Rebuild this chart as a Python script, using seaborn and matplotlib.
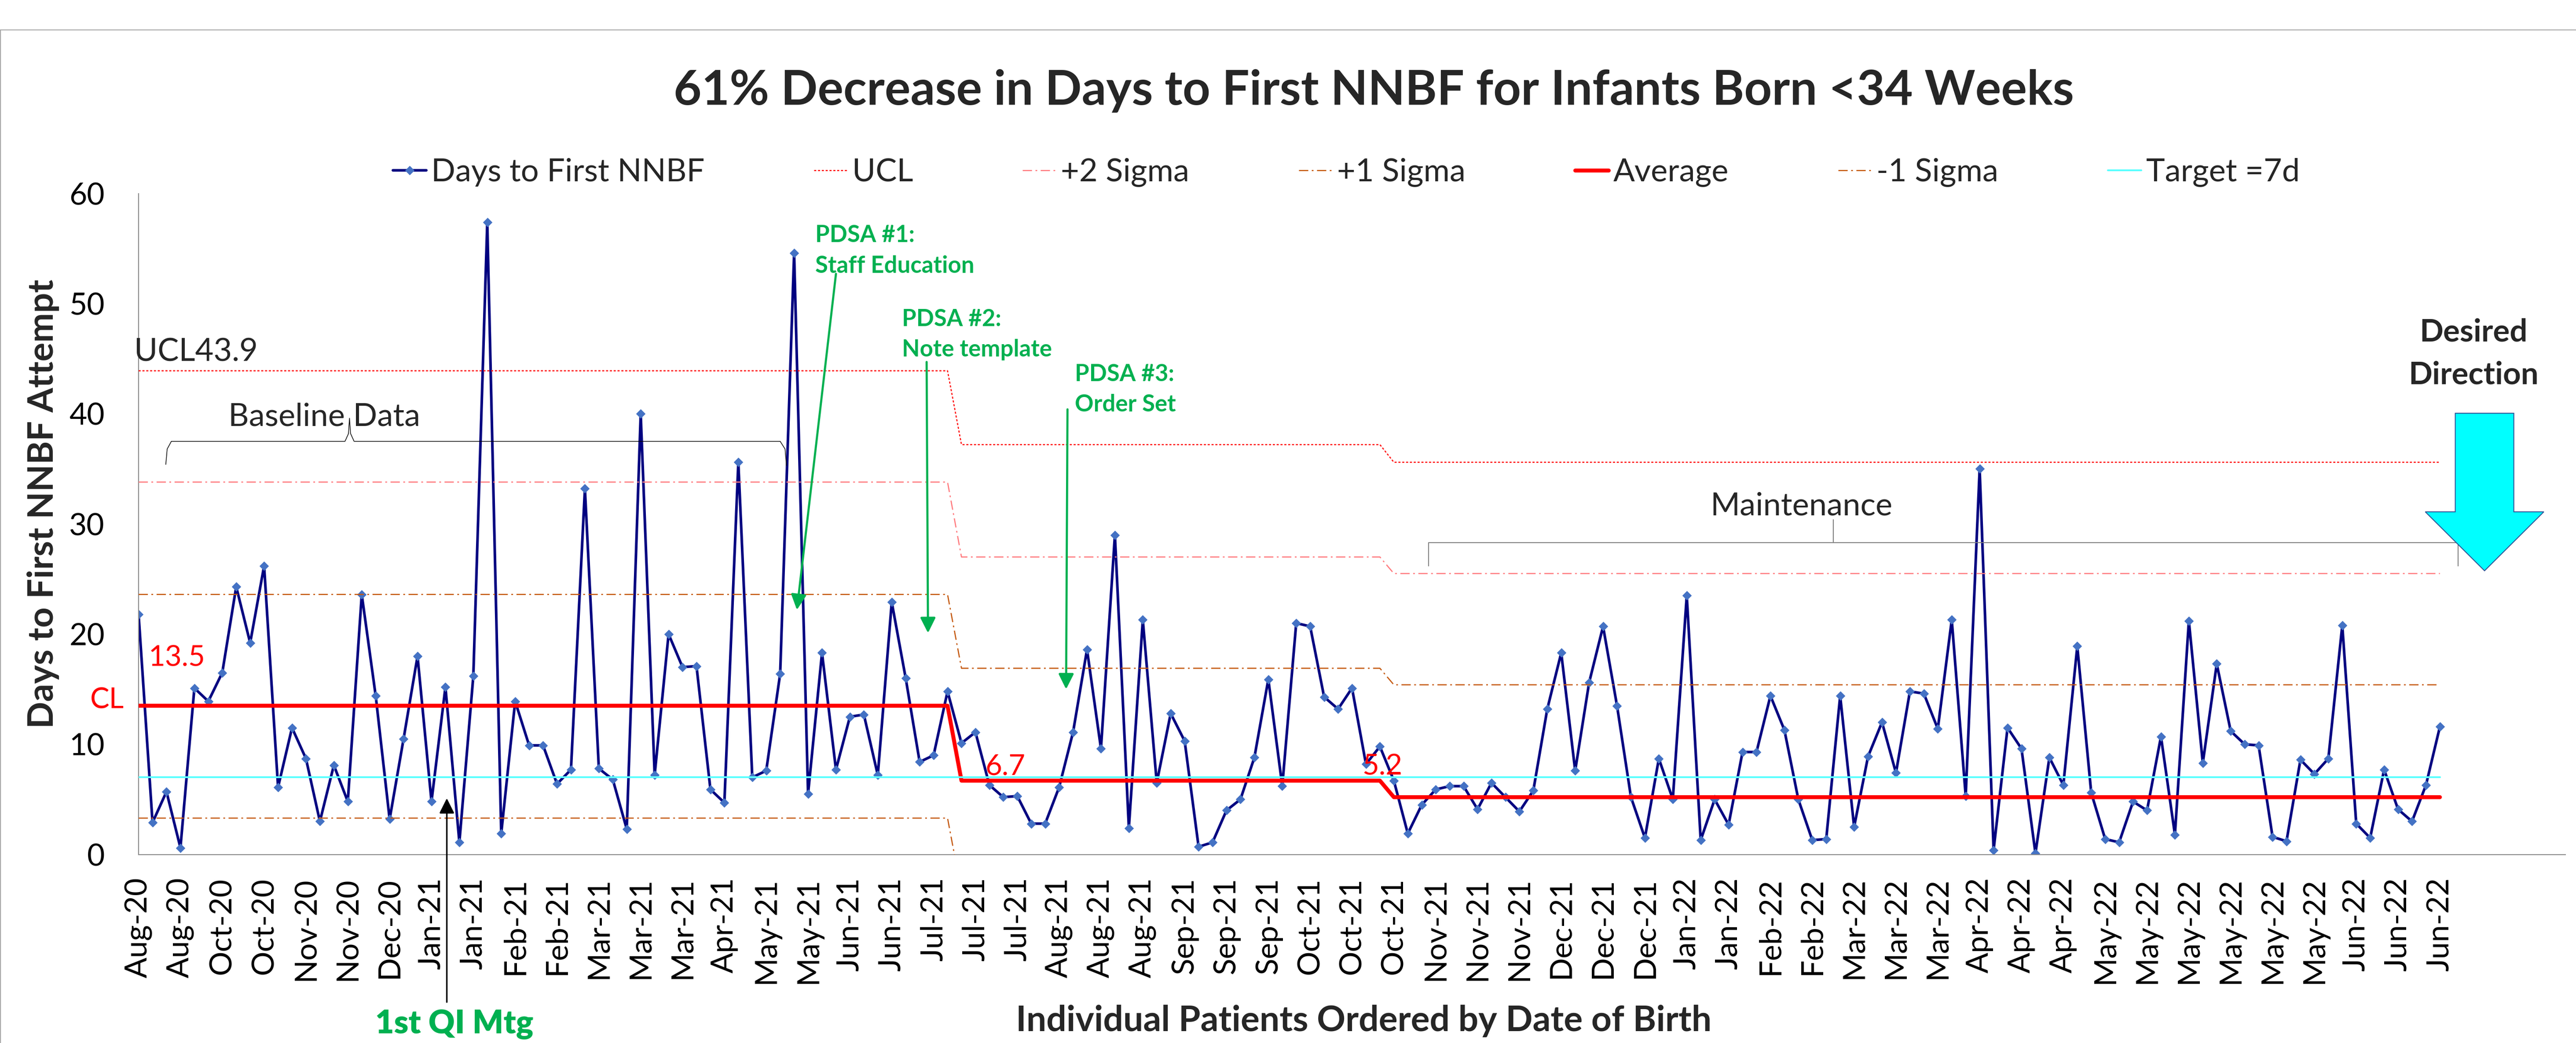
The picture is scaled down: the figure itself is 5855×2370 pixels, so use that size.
import numpy as np
import pandas as pd
import matplotlib
matplotlib.use("Agg")
import matplotlib.pyplot as plt
import seaborn as sns

# days to first NNBF attempt, one value per patient (ordered by birth date)
days = [
    21.8, 2.9, 5.7, 0.6, 15.1, 13.9, 16.5, 24.3, 19.2, 26.2,
    6.1, 11.5, 8.7, 3.0, 8.1, 4.8, 23.6, 14.4, 3.2, 10.5,
    18.0, 4.8, 15.2, 1.1, 16.2, 57.4, 1.9, 13.9, 9.9, 9.9,
    6.4, 7.7, 33.2, 7.8, 6.8, 2.3, 40.0, 7.2, 20.0, 17.0,
    17.1, 5.9, 4.7, 35.6, 7.0, 7.6, 16.4, 54.6, 5.5, 18.3,
    7.7, 12.5, 12.7, 7.2, 22.9, 16.0, 8.4, 9.0, 14.8, 10.1,
    11.1, 6.3, 5.2, 5.3, 2.8, 2.8, 6.1, 11.1, 18.6, 9.6,
    29.0, 2.4, 21.3, 6.5, 12.8, 10.3, 0.7, 1.1, 4.0, 5.0,
    8.8, 15.9, 6.2, 21.0, 20.7, 14.3, 13.2, 15.1, 8.2, 9.8,
    6.7, 1.9, 4.5, 5.9, 6.2, 6.2, 4.1, 6.5, 5.2, 3.9,
    5.8, 13.2, 18.3, 7.6, 15.6, 20.7, 13.5, 5.2, 1.5, 8.7,
    5.0, 23.5, 1.3, 5.0, 2.7, 9.3, 9.3, 14.4, 11.3, 5.0,
    1.3, 1.4, 14.4, 2.5, 8.9, 12.0, 7.4, 14.8, 14.6, 11.4,
    21.3, 5.3, 35.0, 0.4, 11.5, 9.6, 0.1, 8.8, 6.3, 18.9,
    5.6, 1.4, 1.1, 4.8, 4.0, 10.7, 1.8, 21.2, 8.3, 17.3,
    11.2, 10.0, 9.9, 1.6, 1.2, 8.6, 7.3, 8.7, 20.8, 2.8,
    1.5, 7.7, 4.1, 3.0, 6.3, 11.6]

# control chart phases: baseline, intervention, maintenance
phase_len = [59, 31, 76]
cl = [13.5, 6.7, 5.2]
ucl = [43.9, 37.2, 35.6]
plus2 = [33.8, 27.0, 25.5]
plus1 = [23.6, 16.9, 15.4]
minus1 = [3.3, -3.4, -4.9]
target = 7

# every third patient gets a month label
month_labels = ["Aug-20", "Aug-20", "Oct-20", "Oct-20", "Nov-20", "Nov-20", "Dec-20",
                "Jan-21", "Jan-21", "Feb-21", "Feb-21", "Mar-21", "Mar-21", "Mar-21",
                "Apr-21", "May-21", "May-21", "Jun-21", "Jun-21", "Jul-21", "Jul-21",
                "Jul-21", "Aug-21", "Aug-21", "Aug-21", "Sep-21", "Sep-21", "Sep-21",
                "Oct-21", "Oct-21", "Oct-21", "Nov-21", "Nov-21", "Nov-21", "Dec-21",
                "Dec-21", "Dec-21", "Jan-22", "Jan-22", "Feb-22", "Feb-22", "Mar-22",
                "Mar-22", "Mar-22", "Apr-22", "Apr-22", "Apr-22", "May-22", "May-22",
                "May-22", "May-22", "May-22", "May-22", "Jun-22", "Jun-22", "Jun-22"]
n_slots = 175

sns.set_style("white")
plt.rcParams['font.family'] = ['Lato', 'DejaVu Sans']

df = pd.DataFrame({
    "patient": np.arange(len(days)),
    "days": days,
    "UCL": np.repeat(ucl, phase_len),
    "+2 Sigma": np.repeat(plus2, phase_len),
    "+1 Sigma": np.repeat(plus1, phase_len),
    "Average": np.repeat(cl, phase_len),
    "-1 Sigma": np.repeat(minus1, phase_len),
    "Target": target,
})

W, H = 5855, 2370
fig = plt.figure(figsize=(W / 100, H / 100), dpi=100)
ax = fig.add_axes([315 / W, 1 - 1941.6 / H, (5831 - 315) / W, (1941.6 - 439.5) / H])

sns.lineplot(data=df, x="patient", y="days", ax=ax, color="#000080", lw=4.3,
             marker="D", ms=10, mfc="#4472C4", mec="#4472C4",
             label="Days to First NNBF", estimator=None, zorder=2)
sns.lineplot(data=df, x="patient", y="UCL", ax=ax, color="#FF1010", lw=1.9,
             linestyle=(0, (1.8, 1.5)), label="UCL", estimator=None, zorder=3)
sns.lineplot(data=df, x="patient", y="+2 Sigma", ax=ax, color="#FF7C80", lw=1.9,
             linestyle=(0, (8, 3, 1.5, 3)), label="+2 Sigma", estimator=None, zorder=3)
sns.lineplot(data=df, x="patient", y="+1 Sigma", ax=ax, color="#C55A11", lw=1.9,
             linestyle=(0, (8, 3, 1.5, 3)), label="+1 Sigma", estimator=None, zorder=3)
sns.lineplot(data=df, x="patient", y="Average", ax=ax, color="#FF0000", lw=6.5,
             label="Average", estimator=None, zorder=3)
sns.lineplot(data=df, x="patient", y="-1 Sigma", ax=ax, color="#C55A11", lw=1.9,
             linestyle=(0, (8, 3, 1.5, 3)), label="-1 Sigma", estimator=None, zorder=3)
sns.lineplot(data=df, x="patient", y="Target", ax=ax, color="#5CFFFF", lw=3,
             label="Target =7d", estimator=None, zorder=3)

ax.set_xlim(0, n_slots - 1)
ax.set_ylim(0, 60)
ax.set_xlabel("")
ax.set_ylabel("")
ax.set_yticks(range(0, 61, 10))
ticklabels = [""] * n_slots
for k, lab in enumerate(month_labels):
    ticklabels[3 * k] = lab
ax.set_xticks(range(n_slots))
ax.set_xticklabels(ticklabels, rotation=90)
ax.tick_params(axis="both", direction="out", length=19.4, width=1.2, color="#868686",
               labelsize=50, labelcolor="black")
ax.tick_params(axis="y", pad=36)
ax.tick_params(axis="x", pad=18)
sns.despine(ax=ax)
for s in ["left", "bottom"]:
    ax.spines[s].set_color("#868686")
    ax.spines[s].set_linewidth(1.5)

handles, labels = ax.get_legend_handles_labels()
ax.legend(handles, labels, loc="center", bbox_to_anchor=(3060 / W, 1 - 392 / H),
          bbox_transform=fig.transFigure, ncol=7, frameon=False, fontsize=52,
          handlelength=1.05, handletextpad=0.15, columnspacing=3.45,
          borderpad=0, borderaxespad=0, numpoints=1)

# phase labels
ax.text(-0.3, 44.8, "UCL43.9", fontsize=52, va="baseline")
ax.text(0.7, 17.1, "13.5", color="red", fontsize=47, va="baseline")
ax.text(-3.47, 13.25, "CL", color="red", fontsize=47, va="baseline")
ax.text(60.7, 7.23, "6.7", color="red", fontsize=47, va="baseline", zorder=4)
ax.text(87.75, 7.23, "5.2", color="red", fontsize=47, va="baseline", zorder=4)

# baseline brace
bx = [1.95, 2.05, 2.35, 14.8, 15.05, 15.12, 15.2, 15.45, 46.0, 46.35, 46.45]
by = [35.4, 36.8, 37.5, 37.5, 38.2, 39.6, 38.2, 37.5, 37.5, 36.8, 35.3]
ax.plot(bx, by, color="black", lw=1.1)
ax.text(6.44, 38.9, "Baseline Data", fontsize=52, va="baseline")

# maintenance bracket
ax.plot([92.5, 92.5, 166.3, 166.3], [26.2, 28.3, 28.3, 26.2], color="#7F7F7F", lw=1.5, clip_on=False)
ax.plot([121.5, 121.5], [28.3, 30.4], color="#7F7F7F", lw=1.5)
ax.text(112.7, 30.8, "Maintenance", fontsize=52, va="baseline")

# PDSA annotations
green = "#00B050"
gkw = dict(color=green, fontsize=38, weight="bold", va="baseline")
ax.text(48.5, 55.6, "PDSA #1:", **gkw)
ax.text(48.5, 52.8, "Staff Education", **gkw)
ax.text(54.73, 47.94, "PDSA #2:", **gkw)
ax.text(54.73, 45.2, "Note template", **gkw)
ax.text(67.14, 42.98, "PDSA #3:", **gkw)
ax.text(67.14, 40.2, "Order Set", **gkw)
akw = dict(arrowstyle="-|>,head_width=0.35,head_length=0.7", color=green, lw=3.5,
           mutation_scale=30, shrinkA=0, shrinkB=0)
ax.annotate("", xy=(47.2, 22.2), xytext=(50.0, 52.7), arrowprops=akw)
ax.annotate("", xy=(56.6, 20.1), xytext=(56.5, 44.7), arrowprops=akw)
ax.annotate("", xy=(66.5, 15.0), xytext=(66.6, 40.4), arrowprops=akw)

# first QI meeting
ax.annotate("", xy=(22.1, 5.1), xytext=(22.1, -13.4), annotation_clip=False,
            arrowprops=dict(arrowstyle="-|>,head_width=0.35,head_length=0.7", color="black",
                            lw=2.5, mutation_scale=30, shrinkA=0, shrinkB=0))
fig.text(1033 / W, 1 - 2348 / H, "1st QI Mtg", ha="center", va="baseline",
         fontsize=53, weight="heavy", color=green)

# desired direction
ax.arrow(168.2, 40.05, 0, -14.3, width=4.2, head_width=8.5, head_length=5.35,
         length_includes_head=True, fc="#00FFFF", ec="#2F5597", lw=1.5,
         clip_on=False, zorder=6)
ax.text(167.4, 46.57, "Desired", ha="center", va="baseline", fontsize=51, weight="bold")
ax.text(167.4, 42.7, "Direction", ha="center", va="baseline", fontsize=51, weight="bold")

fig.text(3122 / W, 1 - 238 / H, "61% Decrease in Days to First NNBF for Infants Born <34 Weeks",
         ha="center", va="baseline", fontsize=79, weight="bold")
fig.text(98 / W, 1 - 1145 / H, "Days to First NNBF Attempt", rotation=90,
         ha="center", va="center", fontsize=58, weight="bold")
fig.text(3100 / W, 1 - 2343 / H, "Individual Patients Ordered by Date of Birth",
         ha="center", va="baseline", fontsize=58, weight="bold")

fig.add_artist(plt.Rectangle((0.5 / W, -0.5), 2, 0.5 + 1 - 67.5 / H, transform=fig.transFigure,
                             fill=False, ec="#A6A6A6", lw=1.5))

fig.savefig("out.png", dpi=100)
